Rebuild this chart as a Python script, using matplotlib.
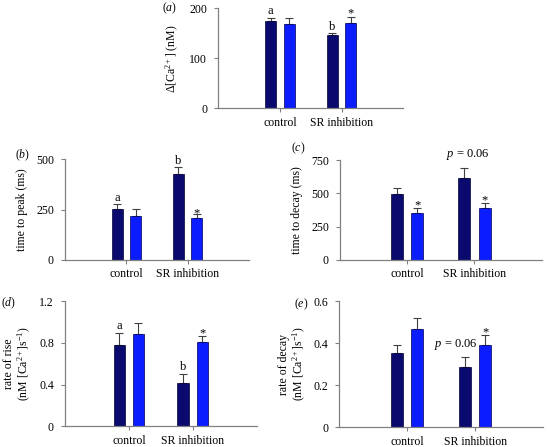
import numpy as np
import matplotlib
matplotlib.use("Agg")
import matplotlib.pyplot as plt

plt.rcParams['font.family'] = ['Liberation Serif', 'DejaVu Serif']
plt.rcParams['mathtext.fontset'] = 'custom'
plt.rcParams['mathtext.rm'] = 'Liberation Serif'
plt.rcParams['mathtext.it'] = 'Liberation Serif:italic'
plt.rcParams['font.size'] = 8

categories = ['control', 'SR inhibition']

# (a) delta Ca
a_dark = [174, 147]
a_dark_err = [7, 3]
a_blue = [168, 170]
a_blue_err = [13, 13]

# (b) time to peak
b_dark = [252, 426]
b_dark_err = [24, 33]
b_blue = [218, 210]
b_blue_err = [33, 18]

# (c) time to decay
c_dark = [493, 618]
c_dark_err = [50, 69]
c_blue = [350, 387]
c_blue_err = [37, 38]

# (d) rate of rise
d_dark = [0.78, 0.415]
d_dark_err = [0.115, 0.09]
d_blue = [0.885, 0.81]
d_blue_err = [0.10, 0.053]

# (e) rate of decay
e_dark = [0.354, 0.286]
e_dark_err = [0.035, 0.049]
e_blue = [0.465, 0.392]
e_blue_err = [0.052, 0.046]

DARK = '#0a0a6e'
BLUE = '#0b1cff'
SPINE = '#808080'

fig = plt.figure(figsize=(5.48, 4.47), dpi=100)


def px_axes(x0, x1, ytop, ybot):
    W, H = 548.0, 447.0
    return fig.add_axes([x0 / W, 1 - ybot / H, (x1 - x0) / W, (ybot - ytop) / H])


def draw_panel(ax, dark, dark_err, blue, blue_err, yticks, yticklabels, ylabel, lpad=6):
    x = np.arange(1, len(categories) + 1)
    w = 0.18
    off = 0.15
    ax.bar(x - off, dark, w, color=DARK, edgecolor='#000033', linewidth=0.5, zorder=2)
    ax.bar(x + off, blue, w, color=BLUE, edgecolor='#000055', linewidth=0.5, zorder=2)
    ax.errorbar(x - off, dark, yerr=[np.zeros(len(dark)), dark_err], fmt='none',
                ecolor='#404040', elinewidth=0.8, capsize=3, capthick=0.8, zorder=1)
    ax.errorbar(x + off, blue, yerr=[np.zeros(len(blue)), blue_err], fmt='none',
                ecolor='#404040', elinewidth=0.8, capsize=3, capthick=0.8, zorder=1)
    ax.set_xlim(0, 3)
    ax.set_ylim(0, yticks[-1])
    ax.set_xticks(x)
    ax.set_xticklabels(categories)
    ax.set_yticks(yticks)
    ax.set_yticklabels(yticklabels)
    for s in ['top', 'right']:
        ax.spines[s].set_visible(False)
    for s in ['left', 'bottom']:
        ax.spines[s].set_color(SPINE)
        ax.spines[s].set_linewidth(0.9)
    ax.tick_params(axis='y', direction='out', length=3, color=SPINE, pad=5, labelsize=8.5)
    ax.tick_params(axis='x', direction='out', length=3, color=SPINE, pad=3, labelsize=8.5)
    ax.set_ylabel(ylabel, fontsize=8.5, labelpad=lpad, linespacing=1.1)
    return x, off


def mark(ax, xpos, ytop, txt, dy=0.5, **kw):
    ax.annotate(txt, (xpos, ytop), xytext=(0, dy), textcoords='offset points',
                ha='center', va='bottom', fontsize=9, **kw)


# (a)
ax_a = px_axes(218.3, 403.3, 8.3, 108.3)
x, off = draw_panel(ax_a, a_dark, a_dark_err, a_blue, a_blue_err,
                    [0, 100, 200], ['0', '100', '200'], r'$\Delta$[Ca$^{2+}$] (nM)')
mark(ax_a, x[0] - off, a_dark[0] + a_dark_err[0], 'a')
mark(ax_a, x[1] - off, a_dark[1] + a_dark_err[1], 'b')
mark(ax_a, x[1] + off, a_blue[1] + a_blue_err[1], '*', dy=-2)

# (b)
ax_b = px_axes(65, 249, 159, 260)
x, off = draw_panel(ax_b, b_dark, b_dark_err, b_blue, b_blue_err,
                    [0, 250, 500], ['0', '250', '500'], 'time to peak (ms)')
mark(ax_b, x[0] - off, b_dark[0] + b_dark_err[0], 'a')
mark(ax_b, x[1] - off, b_dark[1] + b_dark_err[1], 'b')
mark(ax_b, x[1] + off, b_blue[1] + b_blue_err[1], '*', dy=-4)

# (c)
ax_c = px_axes(340, 541.7, 160, 260)
x, off = draw_panel(ax_c, c_dark, c_dark_err, c_blue, c_blue_err,
                    [0, 250, 500, 750], ['0', '250', '500', '750'], 'time to decay (ms)')
mark(ax_c, x[0] + off, c_blue[0] + c_blue_err[0], '*', dy=-2)
mark(ax_c, x[1] + off, c_blue[1] + c_blue_err[1], '*', dy=-2)
ax_c.text(x[1] - 0.1, 790, r'$p$ = 0.06', ha='center', va='center', fontsize=9, clip_on=False)

# (d)
ax_d = px_axes(65, 256.7, 301, 426.3)
x, off = draw_panel(ax_d, d_dark, d_dark_err, d_blue, d_blue_err,
                    [0, 0.4, 0.8, 1.2], ['0', '0.4', '0.8', '1.2'],
                    'rate of rise\n(nM [Ca$^{2+}$]s$^{-1}$)', lpad=4)
mark(ax_d, x[0] - off, d_dark[0] + d_dark_err[0], 'a')
mark(ax_d, x[1] - off, d_dark[1] + d_dark_err[1], 'b')
mark(ax_d, x[1] + off, d_blue[1] + d_blue_err[1], '*', dy=-2)

# (e)
ax_e = px_axes(339.3, 543, 301, 427.3)
x, off = draw_panel(ax_e, e_dark, e_dark_err, e_blue, e_blue_err,
                    [0, 0.2, 0.4, 0.6], ['0', '0.2', '0.4', '0.6'],
                    'rate of decay\n(nM [Ca$^{2+}$]s$^{-1}$)', lpad=4)
mark(ax_e, x[1] + off, e_blue[1] + e_blue_err[1], '*', dy=-2)
ax_e.text(x[1] + off - 0.11, 0.393, r'$p$ = 0.06', ha='right', va='center', fontsize=9)

# panel letters
W, H = 548.0, 447.0
for lab, px, py in [('a', 170, 8), ('b', 23, 155), ('c', 298, 148), ('d', 9, 303), ('e', 301, 304)]:
    fig.text(px / W, 1 - py / H, '(' + r'$' + lab + r'$' + ')', ha='center', va='center', fontsize=8.5)

fig.savefig('out.png', dpi=100)
